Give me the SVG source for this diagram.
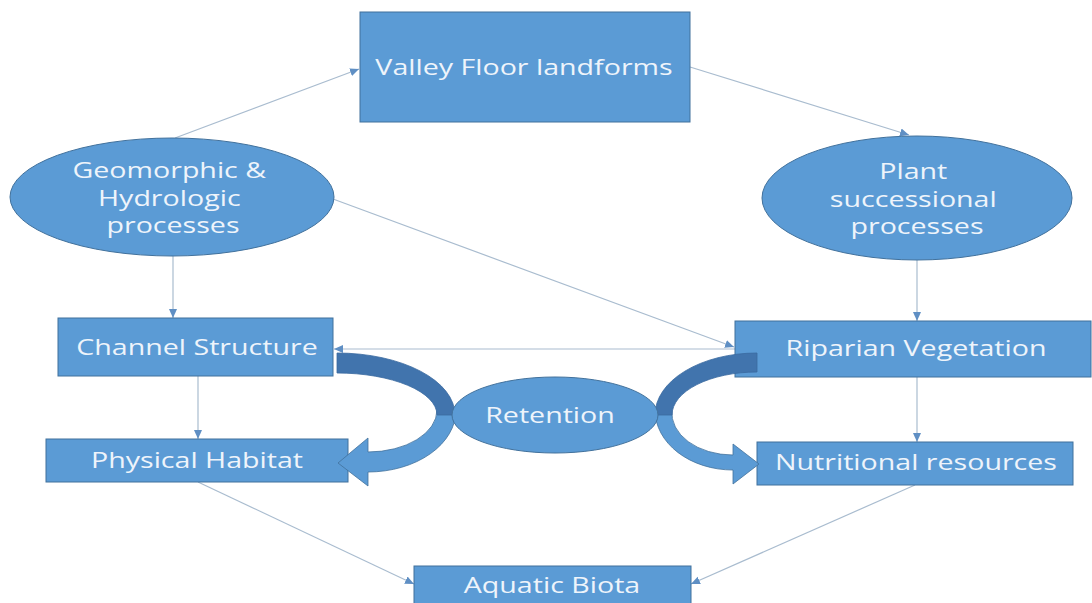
<svg xmlns="http://www.w3.org/2000/svg" width="1092" height="603" viewBox="0 0 1092 603">
  <style>
    .node { fill: #5b9bd5; stroke: #41719c; stroke-width: 1; }
    .label { font-family: "Open Sans", "Liberation Sans", sans-serif; font-size: 22px; fill: #eef4fb; text-anchor: middle; }
    .link { fill: none; stroke: #a9bccf; stroke-width: 1.2; marker-end: url(#tip); }
    .band-back { fill: #4174ad; stroke: #3a6aa0; stroke-width: 0.8; }
    .band-front { fill: #5b9bd5; stroke: #41719c; stroke-width: 0.8; }
  </style>
  <defs>
    <marker id="tip" markerUnits="userSpaceOnUse" markerWidth="10" markerHeight="10" viewBox="0 0 10 10" refX="9" refY="5" orient="auto">
      <path d="M0,1 L9,5 L0,9 Z" fill="#5f8fc4"/>
    </marker>
  </defs>

  <rect width="1092" height="603" fill="#ffffff"/>

  <!-- thin connectors -->
  <g id="connectors">
    <line class="link" x1="175" y1="138" x2="359" y2="69"/>
    <line class="link" x1="690" y1="67" x2="909" y2="135"/>
    <line class="link" x1="173" y1="256" x2="173" y2="318"/>
    <line class="link" x1="917" y1="260" x2="917" y2="321"/>
    <line class="link" x1="333" y1="199" x2="734" y2="347"/>
    <line class="link" x1="735" y1="349" x2="334" y2="349"/>
    <line class="link" x1="198" y1="376" x2="198" y2="439"/>
    <line class="link" x1="917" y1="377" x2="917" y2="442"/>
    <line class="link" x1="198" y1="482" x2="414" y2="584"/>
    <line class="link" x1="915" y1="485" x2="691" y2="584"/>
  </g>

  <g id="valley-floor">
    <rect class="node" x="360" y="12" width="330" height="110"/>
    <text class="label" transform="translate(524,75) scale(1.3,1)">Valley Floor landforms</text>
  </g>

  <g id="geomorphic">
    <ellipse class="node" cx="172" cy="197" rx="162" ry="59"/>
    <text class="label" transform="translate(173,178) scale(1.3,1)">
      <tspan x="0" y="0">Geomorphic &amp;</tspan>
      <tspan x="0" y="28">Hydrologic</tspan>
      <tspan x="0" y="55">processes</tspan>
    </text>
  </g>

  <g id="plant-succession">
    <ellipse class="node" cx="917" cy="198" rx="155" ry="62"/>
    <text class="label" transform="translate(917,179) scale(1.3,1)">
      <tspan x="0" y="0">Plant</tspan>
      <tspan x="0" y="28">successional</tspan>
      <tspan x="0" y="55">processes</tspan>
    </text>
  </g>

  <g id="channel-structure">
    <rect class="node" x="58" y="318" width="275" height="58"/>
    <text class="label" transform="translate(197,355) scale(1.3,1)">Channel Structure</text>
  </g>

  <g id="riparian-vegetation">
    <rect class="node" x="735" y="321" width="356" height="56"/>
    <text class="label" transform="translate(916,356) scale(1.3,1)">Riparian Vegetation</text>
  </g>

  <g id="physical-habitat">
    <rect class="node" x="46" y="439" width="302" height="43"/>
    <text class="label" transform="translate(197,468) scale(1.3,1)">Physical Habitat</text>
  </g>

  <g id="nutritional-resources">
    <rect class="node" x="757" y="442" width="316" height="43"/>
    <text class="label" transform="translate(916,470) scale(1.3,1)">Nutritional resources</text>
  </g>

  <g id="aquatic-biota">
    <rect class="node" x="414" y="566" width="277" height="40"/>
    <text class="label" transform="translate(552,593) scale(1.3,1)">Aquatic Biota</text>
  </g>

  <!-- broad curved arrows looping through retention -->
  <g id="retention-arrows">
    <path class="band-front" d="M456,410 A88,62 0 0 1 368,472 L368,486 L338,463 L368,438 L368,452 A69,42 0 0 0 437,410 Z"/>
    <path class="band-back" d="M337,353 A118,62 0 0 1 455,415 L437,415 A100,42 0 0 0 337,373 Z"/>
    <path class="band-front" d="M655,410 A78,60 0 0 0 733,470 L733,484 L759,464 L733,444 L733,455 A61,42 0 0 1 672,410 Z"/>
    <path class="band-back" d="M757,353 A102,62 0 0 0 655,415 L672,415 A85,43 0 0 1 757,372 Z"/>
  </g>

  <g id="retention">
    <ellipse class="node" cx="555" cy="415" rx="103" ry="38"/>
    <text class="label" transform="translate(550,423) scale(1.3,1)">Retention</text>
  </g>
</svg>
